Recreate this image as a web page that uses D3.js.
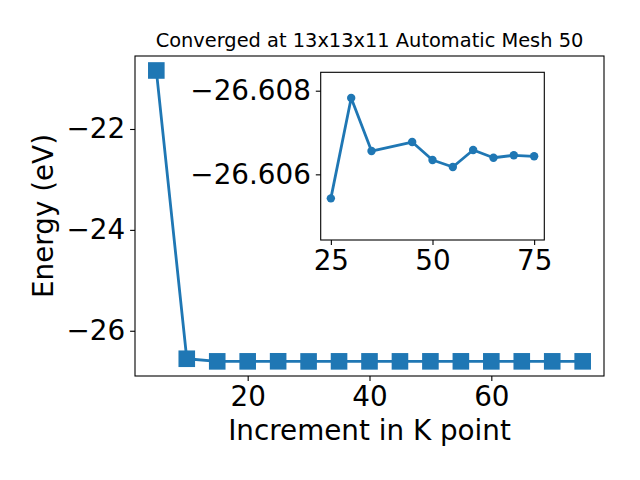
<!DOCTYPE html>
<html>
<head>
<meta charset="utf-8">
<script src="https://cdn.jsdelivr.net/npm/d3@7"></script>
<style>
  body { margin: 0; background: #fff; }
  svg { display: block; }
  text { font-family: "DejaVu Sans", sans-serif; fill: #000; }
</style>
</head>
<body>
<svg id="chart" width="640" height="480"></svg>
<script>
// ---- data ----
const title = "Converged at 13x13x11 Automatic Mesh 50";
const xLabel = "Increment in K point";
const yLabel = "Energy (eV)";

const mainK = [5, 10, 15, 20, 25, 30, 35, 40, 45, 50, 55, 60, 65, 70, 75];
const mainE = [-20.84, -26.555, -26.6068, -26.6066, -26.6054, -26.6078, -26.6066, -26.6067,
               -26.6068, -26.6063, -26.6062, -26.6066, -26.6064, -26.6065, -26.6064];

const insetK = [25, 30, 35, 45, 50, 55, 60, 65, 70, 75];
const insetE = [-26.605426, -26.607825, -26.606557, -26.606773, -26.606342,
                -26.606175, -26.606581, -26.606397, -26.606455, -26.606431];

const mainXTicks = [20, 40, 60];
const mainYTicks = [-22, -24, -26];
const insetXTicks = [25, 50, 75];
const insetYTicks = [-26.608, -26.606];

// ---- layout ----
const color = "#1f77b4";
const fs = 27.8;
const svg = d3.select("#chart");

const M = { left: 135, right: 604, top: 56, bottom: 376 };
const I = { left: 320.7, right: 544.3, top: 72.3, bottom: 240 };

const x = d3.scaleLinear().domain([1.5, 78.5]).range([M.left, M.right]);
const y = d3.scaleLinear().domain([-26.897, -20.553]).range([M.bottom, M.top]);

const xi = d3.scaleLinear().domain([22.5, 77.5]).range([I.left, I.right]);
const yi = d3.scaleLinear().domain([-26.60844, -26.60443]).range([I.top, I.bottom]);

function styleAxis(g) {
  g.select(".domain").remove();
  g.selectAll(".tick line").attr("stroke", "#000").attr("stroke-width", 1.1);
  g.selectAll(".tick text").attr("font-size", fs).attr("font-family", "DejaVu Sans").attr("fill", "#000");
}
const minus = d => d3.format("")(d).replace("-", "\u2212");

// main axes
svg.append("g").attr("transform", `translate(0,${M.bottom})`)
  .call(d3.axisBottom(x).tickValues(mainXTicks).tickSize(4.9).tickPadding(4.9).tickFormat(minus))
  .call(styleAxis);
svg.append("g").attr("transform", `translate(${M.left},0)`)
  .call(d3.axisLeft(y).tickValues(mainYTicks).tickSize(4.9).tickPadding(4.9).tickFormat(minus))
  .call(styleAxis);

const line = d3.line().x((d, i) => x(mainK[i])).y(d => y(d));
svg.append("path").datum(mainE).attr("d", line)
  .attr("fill", "none").attr("stroke", color).attr("stroke-width", 2.8).attr("stroke-linejoin", "round");
const sq = 16.6;
svg.append("g").selectAll("rect").data(mainE).join("rect")
  .attr("x", (d, i) => x(mainK[i]) - sq / 2)
  .attr("y", d => y(d) - sq / 2)
  .attr("width", sq).attr("height", sq)
  .attr("fill", color);

svg.append("rect").attr("x", M.left).attr("y", M.top)
  .attr("width", M.right - M.left).attr("height", M.bottom - M.top)
  .attr("fill", "none").attr("stroke", "#000").attr("stroke-width", 1.1);

// titles
svg.append("text").attr("x", (M.left + M.right) / 2).attr("y", 47.3)
  .attr("text-anchor", "middle").attr("font-size", 19.4).text(title);
svg.append("text").attr("x", (M.left + M.right) / 2).attr("y", 440)
  .attr("text-anchor", "middle").attr("font-size", fs).text(xLabel);
svg.append("text").attr("transform", `translate(53,${(M.top + M.bottom) / 2}) rotate(-90)`)
  .attr("text-anchor", "middle").attr("font-size", fs).text(yLabel);

// inset
svg.append("rect").attr("x", I.left).attr("y", I.top)
  .attr("width", I.right - I.left).attr("height", I.bottom - I.top)
  .attr("fill", "#fff");
svg.append("g").attr("transform", `translate(0,${I.bottom})`)
  .call(d3.axisBottom(xi).tickValues(insetXTicks).tickSize(4.9).tickPadding(4.9).tickFormat(minus))
  .call(styleAxis);
svg.append("g").attr("transform", `translate(${I.left},0)`)
  .call(d3.axisLeft(yi).tickValues(insetYTicks).tickSize(4.9).tickPadding(4.9)
    .tickFormat(d => d3.format(".3f")(d).replace("-", "\u2212")))
  .call(styleAxis);

const lineI = d3.line().x((d, i) => xi(insetK[i])).y(d => yi(d));
svg.append("path").datum(insetE).attr("d", lineI)
  .attr("fill", "none").attr("stroke", color).attr("stroke-width", 2.8).attr("stroke-linejoin", "round");
svg.append("g").selectAll("circle").data(insetE).join("circle")
  .attr("cx", (d, i) => xi(insetK[i]))
  .attr("cy", d => yi(d))
  .attr("r", 4.2).attr("fill", color);

svg.append("rect").attr("x", I.left).attr("y", I.top)
  .attr("width", I.right - I.left).attr("height", I.bottom - I.top)
  .attr("fill", "none").attr("stroke", "#000").attr("stroke-width", 1.1);
</script>
</body>
</html>
